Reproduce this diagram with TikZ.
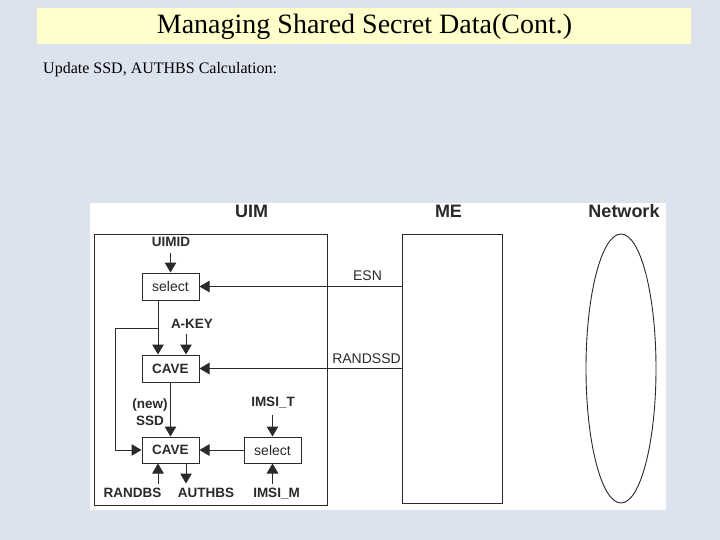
\documentclass[tikz,border=0pt]{standalone}
\usepackage{fontspec}
\setmainfont{Liberation Serif}
\newfontfamily\arialf{Liberation Sans}
\usetikzlibrary{arrows.meta,shapes.geometric}
\definecolor{bgc}{HTML}{DCE3EE}
\definecolor{titlec}{HTML}{FFFFCC}
\definecolor{linec}{HTML}{2A2A2A}
\begin{document}
\begin{tikzpicture}[x=1pt,y=-1pt,
  boxn/.style={draw=linec, line width=1pt, minimum width=57pt, minimum height=27pt, inner sep=0pt, fill=white, text=linec},
  boldtxt/.style={font=\arialf\bfseries\fontsize{13.5}{15}\selectfont},
  regtxt/.style={font=\arialf\fontsize{14}{16}\selectfont},
  lbl/.style={boldtxt, anchor=base, inner sep=0pt, text=linec},
  rlbl/.style={regtxt, anchor=base, inner sep=0pt, text=linec},
  hdr/.style={font=\arialf\bfseries\fontsize{18}{20}\selectfont, anchor=base, inner sep=0pt, text=linec},
  arr/.style={draw=linec, line width=1pt, -{Triangle[length=10pt,width=11.5pt]}},
  frame/.style={draw=linec, line width=1pt, inner sep=0pt}]
\useasboundingbox (0,0) rectangle (720,540);
\fill[bgc] (0,0) rectangle (720,540);
\fill[titlec] (37,8) rectangle (691,44);
\fill[white] (90,203) rectangle (666,510);
% texts
\node[font=\fontsize{28}{31}\selectfont, anchor=base, inner sep=0pt] (title) at (364.5,34) {Managing Shared Secret Data(Cont.)};
\node[font=\fontsize{16}{19}\selectfont, anchor=base west, inner sep=0pt] (sub) at (43,73.3) {Update SSD, AUTHBS Calculation:};
% headers
\node[hdr] (huim) at (251.5,218) {UIM};
\node[hdr] (hme) at (448.5,218) {ME};
\node[hdr] (hnet) at (624,218) {Network};
% frames
\node[frame, minimum width=233pt, minimum height=271pt] (uim) at (210.5,369.5) {};
\node[frame, minimum width=100pt, minimum height=269pt] (me) at (452,368.5) {};
\node[frame, line width=0.9pt, ellipse, minimum width=70pt, minimum height=269pt] (net) at (621,368.5) {};
% boxes
\node[boxn, regtxt] (select1) at (170.5,286.5) {select};
\node[boxn, boldtxt] (cave1) at (170.5,368.5) {CAVE};
\node[boxn, boldtxt, minimum height=26pt] (cave2) at (170.5,450) {CAVE};
\node[boxn, regtxt, minimum height=26pt] (select2) at (272.5,450) {select};
% labels
\node[lbl] (uimid) at (171,247) {UIMID};
\node[lbl] (akey) at (192,328) {A-KEY};
\node[lbl, align=center] (newssd) at (150,425) {(new)\\[1.5pt]SSD};
\node[lbl] (imsit) at (273,406) {IMSI\_T};
\node[lbl] (randbs) at (132.5,497) {RANDBS};
\node[lbl] (authbs) at (206,497) {AUTHBS};
\node[lbl] (imsim) at (276.5,497) {IMSI\_M};
\node[rlbl] (esn) at (367.5,280) {ESN};
\node[rlbl] (randssd) at (366.5,363) {RANDSSD};
% connectors
\draw[arr] ([yshift=20pt]select1.north) -- (select1.north);
\draw[arr] ([xshift=-12.5pt]select1.south) -- ([xshift=-12.5pt]cave1.north);
\draw[arr] ([xshift=15.5pt,yshift=21pt]cave1.north) -- ([xshift=15.5pt]cave1.north);
\coordinate (fb) at ([xshift=-12.5pt,yshift=-28pt]select1.south);
\draw[arr] (fb) -- ++(-43,0) |- (cave2.west);
\draw[arr] (cave1) -- (cave2);
\draw[arr] (select2) -- (cave2);
\draw[arr] ([yshift=22pt]select2.north) -- (select2.north);
\draw[arr] ([yshift=-20pt]select2.south) -- (select2.south);
\draw[arr] ([xshift=-12.5pt,yshift=-20pt]cave2.south) -- ([xshift=-12.5pt]cave2.south);
\draw[arr] ([xshift=15.5pt]cave2.south) -- ([xshift=15.5pt,yshift=-20pt]cave2.south);
\draw[arr] (me.west |- select1.east) -- (select1.east);
\draw[arr] (me.west |- cave1.east) -- (cave1.east);
\end{tikzpicture}
\end{document}
